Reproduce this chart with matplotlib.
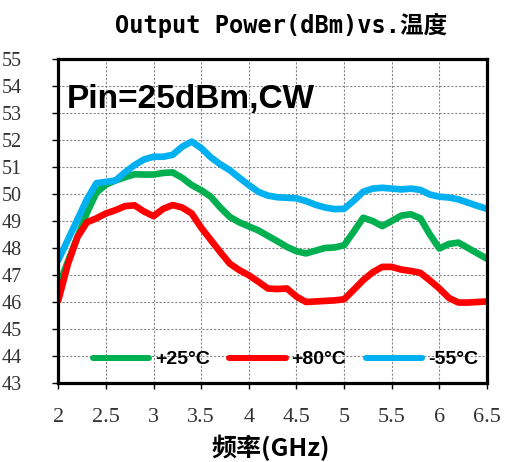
import matplotlib
matplotlib.use("Agg")
import matplotlib.pyplot as plt
import numpy as np

# frequency points (GHz)
freq = [2.0, 2.1, 2.2, 2.3, 2.4, 2.5, 2.6, 2.7, 2.8, 2.9,
        3.0, 3.1, 3.2, 3.3, 3.4, 3.5, 3.6, 3.7, 3.8, 3.9,
        4.0, 4.1, 4.2, 4.3, 4.4, 4.5, 4.6, 4.7, 4.8, 4.9,
        5.0, 5.1, 5.2, 5.3, 5.4, 5.5, 5.6, 5.7, 5.8, 5.9,
        6.0, 6.1, 6.2, 6.3, 6.4, 6.5]

# output power (dBm)
p_25 = [46.56, 47.5, 48.4, 49.3, 50.05, 50.35, 50.5, 50.62, 50.73, 50.72,
        50.72, 50.78, 50.8, 50.6, 50.33, 50.14, 49.9, 49.5, 49.15, 48.95,
        48.8, 48.65, 48.45, 48.25, 48.04, 47.88, 47.8, 47.9, 48.0, 48.02,
        48.1, 48.6, 49.12, 49.0, 48.81, 49.0, 49.2, 49.25, 49.1, 48.5,
        47.98, 48.15, 48.2, 48.0, 47.8, 47.6]
p_80 = [46.06, 47.4, 48.4, 48.95, 49.1, 49.28, 49.4, 49.55, 49.58, 49.35,
        49.18, 49.45, 49.59, 49.5, 49.28, 48.75, 48.3, 47.85, 47.42, 47.18,
        46.99, 46.75, 46.5, 46.48, 46.5, 46.2, 46.0, 46.02, 46.04, 46.06,
        46.1, 46.45, 46.81, 47.1, 47.3, 47.3, 47.2, 47.15, 47.08, 46.8,
        46.5, 46.15, 45.98, 45.98, 46.0, 46.02]
p_m55 = [47.55, 48.3, 49.05, 49.8, 50.4, 50.45, 50.5, 50.8, 51.07, 51.28,
         51.38, 51.38, 51.45, 51.75, 51.94, 51.7, 51.36, 51.1, 50.88, 50.6,
         50.33, 50.08, 49.94, 49.88, 49.86, 49.84, 49.74, 49.6, 49.5, 49.44,
         49.45, 49.75, 50.08, 50.2, 50.23, 50.2, 50.17, 50.2, 50.15, 49.98,
         49.9, 49.87, 49.8, 49.68, 49.56, 49.45]

labels = ["+25°C", "+80°C", "-55°C"]
colors = ["#00B050", "#FF0000", "#00B0F0"]

xticks = [2, 2.5, 3, 3.5, 4, 4.5, 5, 5.5, 6, 6.5]
xticklabels = ["2", "2.5", "3", "3.5", "4", "4.5", "5", "5.5", "6", "6.5"]
yticks = list(range(43, 56))

fig = plt.figure(figsize=(5.08, 4.62), dpi=100)
ax = fig.add_axes([0.1148, 0.171, 0.8439, 0.7013])

for ys, lab, c in zip([p_25, p_80, p_m55], labels, colors):
    ax.plot(freq, ys, color=c, lw=4.8, label=lab,
            solid_joinstyle="round", solid_capstyle="round")

ax.set_xlim(2, 6.5)
ax.set_ylim(43, 55)
ax.set_xticks(xticks)
ax.set_xticklabels(xticklabels, fontsize=16, family="Liberation Serif", color="#333333")
ax.set_yticks(yticks)
ax.set_yticklabels([str(v) for v in yticks], fontsize=14.5, family="Liberation Serif", color="#333333")
ax.tick_params(axis="x", length=4, width=1, pad=14, direction="out")
ax.tick_params(axis="y", length=4, width=1, pad=22, direction="out")

ax.grid(True, color="#888888", lw=0.8, ls=(0, (2, 1.5)))
ax.set_axisbelow(True)
for s in ax.spines.values():
    s.set_linewidth(2.3)
    s.set_color("black")

ax.text(0.019, 0.875, "Pin=25dBm,CW", transform=ax.transAxes,
        fontsize=24, fontweight="bold", family="Liberation Sans", va="center", ha="left")

leg = ax.legend(loc="center", bbox_to_anchor=(0.53, 0.072), ncol=3, frameon=False,
                handlelength=2.9, handletextpad=0.3, columnspacing=1.0,
                prop={"family": "Liberation Sans", "weight": "bold", "size": 14})
for h in leg.get_lines():
    h.set_linewidth(4.3)

fig.text(281 / 508, 1 - 25 / 462, "Output Power(dBm)vs.温度", ha="center", va="center",
         fontsize=17, fontweight="bold", family=["DejaVu Sans Mono", "Noto Sans CJK SC"])
fig.text(271 / 508, 1 - 448 / 462, "频率(GHz)", ha="center", va="center",
         fontsize=18, fontweight="bold", family=["Noto Sans CJK SC", "DejaVu Sans Mono"])

plt.savefig("out.png", dpi=100)
